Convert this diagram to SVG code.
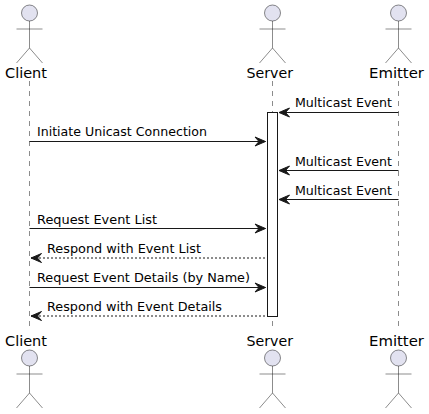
<svg xmlns="http://www.w3.org/2000/svg" width="429" height="414" viewBox="0 0 429 414">
<style>
text{font-family:"DejaVu Sans",sans-serif;fill:#000}
.n{font-size:14px}
.m{font-size:13px}
.life{stroke:#181818;stroke-width:.5;stroke-dasharray:5,5;fill:none}
.h{fill:#E2E2F0;stroke:#181818;stroke-width:.5}
.a{fill:none;stroke:#181818;stroke-width:.5}
.c{stroke:#181818;stroke-width:1;fill:none}
.d{stroke-dasharray:2,2}
.t{fill:#181818;stroke:#181818;stroke-width:1}
</style>
<defs>
<g id="actor"><circle class="h" cx="0" cy="13" r="8"/><path class="a" d="M0 21V48M-13 29H13M0 48L-13 63M0 48L13 63"/></g>
</defs>
<g id="lifelines">
<path class="life" d="M29.5 81V331M272.5 81V331M398.5 81V331"/>
</g>
<g id="activation"><rect x="267.5" y="112.5" width="10" height="204" fill="#fff" stroke="#181818" stroke-width="1"/></g>
<g id="connectors">
<path class="c" d="M279 112.5H398.5"/><path class="t" d="M289.5 108L279 112.5L289.5 117L285.5 112.5Z"/>
<path class="c" d="M29.5 141.5H265.5"/><path class="t" d="M255 137L265.5 141.5L255 146L259 141.5Z"/>
<path class="c" d="M279 170.5H398.5"/><path class="t" d="M289.5 166L279 170.5L289.5 175L285.5 170.5Z"/>
<path class="c" d="M279 199.5H398.5"/><path class="t" d="M289.5 195L279 199.5L289.5 204L285.5 199.5Z"/>
<path class="c" d="M29.5 228.5H265.5"/><path class="t" d="M255 224L265.5 228.5L255 233L259 228.5Z"/>
<path class="c d" d="M31 258H267"/><path class="t" d="M41.5 253.5L31 258L41.5 262.5L37.5 258Z"/>
<path class="c" d="M29.5 287.5H265.5"/><path class="t" d="M255 283L265.5 287.5L255 292L259 287.5Z"/>
<path class="c d" d="M31 316H267"/><path class="t" d="M41.5 311.5L31 316L41.5 320.5L37.5 316Z"/>
</g>
<g id="client"><text class="n" x="5" y="78" textLength="42" lengthAdjust="spacingAndGlyphs">Client</text><use href="#actor" x="29.5" y="0"/></g>
<g id="server"><text class="n" x="246.5" y="78" textLength="46.5" lengthAdjust="spacingAndGlyphs">Server</text><use href="#actor" x="272.5" y="0"/></g>
<g id="emitter"><text class="n" x="369" y="78" textLength="55" lengthAdjust="spacingAndGlyphs">Emitter</text><use href="#actor" x="398.5" y="0"/></g>
<g id="client-bottom"><text class="n" x="5" y="346" textLength="42" lengthAdjust="spacingAndGlyphs">Client</text><use href="#actor" x="29.5" y="345"/></g>
<g id="server-bottom"><text class="n" x="246.5" y="346" textLength="46.5" lengthAdjust="spacingAndGlyphs">Server</text><use href="#actor" x="272.5" y="345"/></g>
<g id="emitter-bottom"><text class="n" x="369" y="346" textLength="55" lengthAdjust="spacingAndGlyphs">Emitter</text><use href="#actor" x="398.5" y="345"/></g>
<g id="labels">
<text class="m" x="295" y="107" textLength="97" lengthAdjust="spacingAndGlyphs">Multicast Event</text>
<text class="m" x="37" y="136" textLength="170" lengthAdjust="spacingAndGlyphs">Initiate Unicast Connection</text>
<text class="m" x="295" y="166" textLength="97" lengthAdjust="spacingAndGlyphs">Multicast Event</text>
<text class="m" x="295" y="195" textLength="97" lengthAdjust="spacingAndGlyphs">Multicast Event</text>
<text class="m" x="37" y="224" textLength="120" lengthAdjust="spacingAndGlyphs">Request Event List</text>
<text class="m" x="47" y="253" textLength="154" lengthAdjust="spacingAndGlyphs">Respond with Event List</text>
<text class="m" x="37" y="282" textLength="213" lengthAdjust="spacingAndGlyphs">Request Event Details (by Name)</text>
<text class="m" x="47" y="311" textLength="175" lengthAdjust="spacingAndGlyphs">Respond with Event Details</text>
</g>
</svg>
